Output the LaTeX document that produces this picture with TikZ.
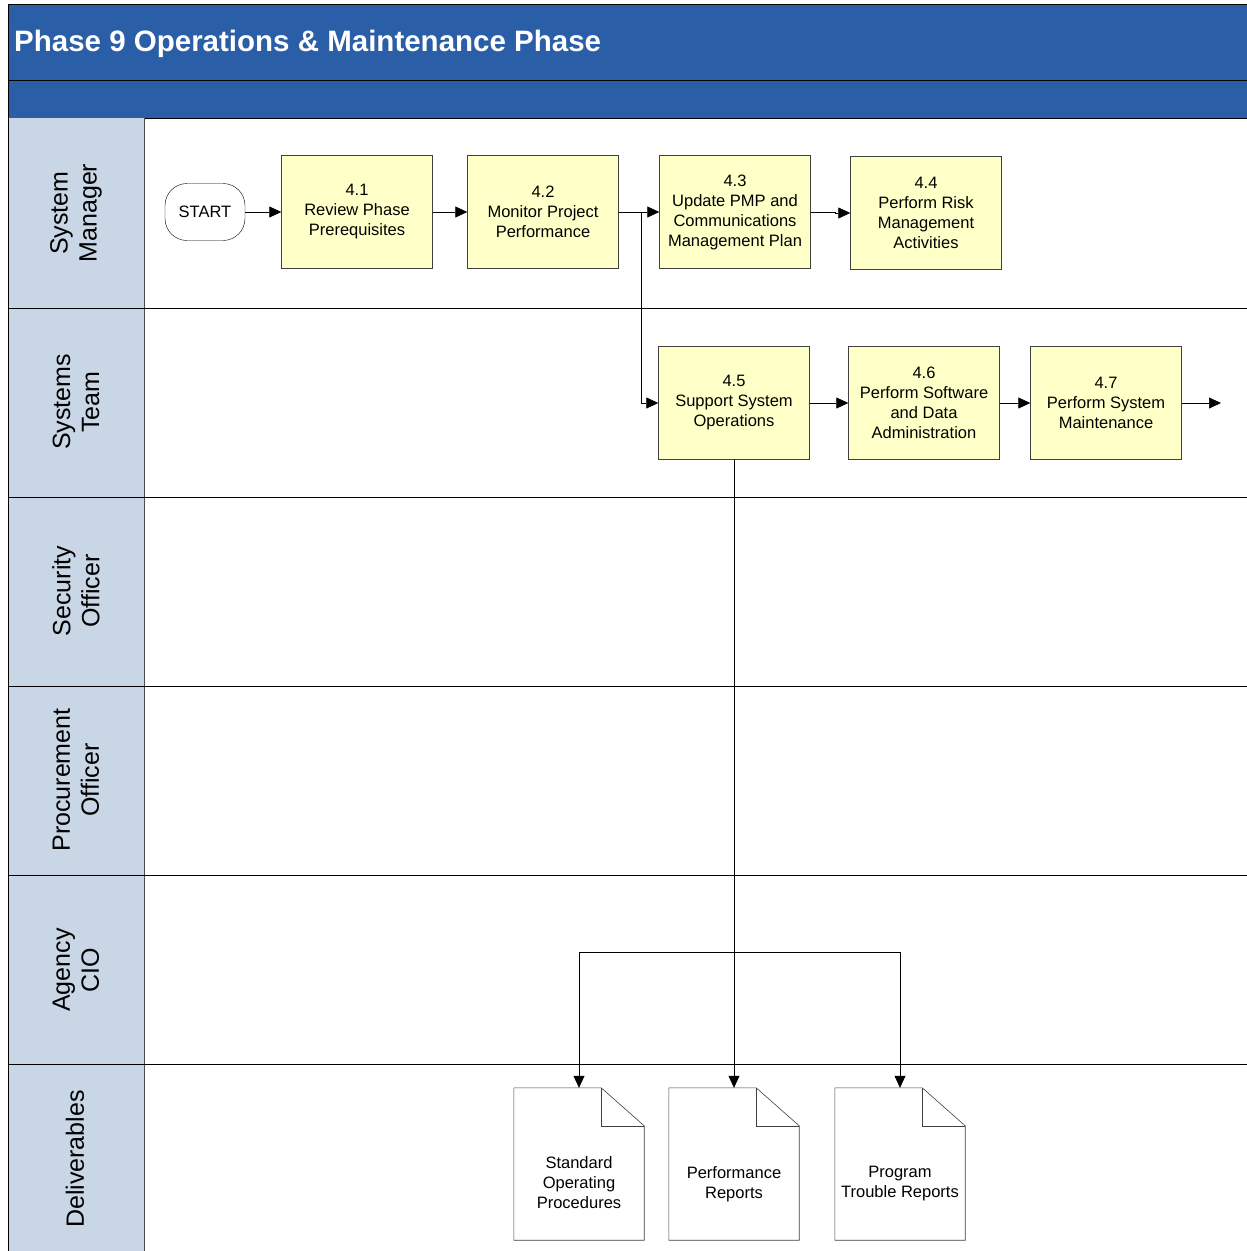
\documentclass[tikz,border=0pt]{standalone}
\usepackage{fontspec}
\setmainfont{Liberation Sans}
\usetikzlibrary{arrows.meta,calc}
\definecolor{hdrblue}{RGB}{42,94,166}
\definecolor{lanebg}{RGB}{201,214,230}
\definecolor{procfill}{RGB}{255,255,200}
\begin{document}
\begin{tikzpicture}[x=1pt,y=-1pt,
 proc/.style={draw=black!75,fill=procfill,minimum width=151pt,minimum height=113pt,align=center,font=\fontsize{16.5}{20}\selectfont,inner sep=2pt},
 term/.style={draw,rounded corners=22pt,minimum width=80pt,minimum height=57pt,font=\fontsize{16.5}{20}\selectfont},
 arr/.style={-{Triangle[length=12pt,width=11pt]},line width=0.6pt},
 lanelbl/.style={rotate=90,align=center,font=\fontsize{25}{29}\selectfont},
 docbox/.style={minimum width=130pt,minimum height=152pt,inner sep=0pt},
 docshape/.style={draw=black!75,fill=white,line width=0.6pt},
 doctext/.style={align=center,font=\fontsize{16.5}{20}\selectfont}]

\useasboundingbox (0,0) rectangle (1247,1251);
\fill[white] (0,0) rectangle (1247,1251);
% header bands
\draw[fill=hdrblue,line width=0.8pt] (8,4) rectangle (1252,80);
\draw[fill=hdrblue,line width=0.8pt] (8,80) rectangle (1252,118);
\node[anchor=west,text=white,font=\bfseries\fontsize{29.5}{34}\selectfont,inner sep=0pt] (title) at (14,44) {Phase 9 Operations \& Maintenance Phase};
% lane label column
\fill[lanebg] (8,118) rectangle (144,1255);
\draw[black!70,line width=0.8pt] (144,118) -- (144,1255);
\draw[line width=0.8pt] (8,4) -- (8,1255);
\foreach \yy in {308,497,686,875,1064} \draw[line width=0.8pt] (8,\yy) -- (1252,\yy);
% lane labels
\node[lanelbl] (l1) at (76,213) {System\\Manager};
\node[lanelbl] (l2) at (76,402) {Systems\\Team};
\node[lanelbl] (l3) at (76,591) {Security\\Officer};
\node[lanelbl] (l4) at (76,780) {Procurement\\Officer};
\node[lanelbl] (l5) at (76,970) {Agency\\CIO};
\node[lanelbl] (l6) at (75,1159) {Deliverables};
% process nodes
\node[term] (start) at (205,212) {START};
\node[proc] (n41) at (357,212) {4.1\\Review Phase\\Prerequisites};
\node[proc] (n42) at (543,212) {4.2\\Monitor Project\\Performance};
\node[proc] (n43) at (735,212) {4.3\\Update PMP and\\Communications\\Management Plan};
\node[proc] (n44) at (926,213) {4.4\\Perform Risk\\Management\\Activities};
\node[proc] (n45) at (734,403) {4.5\\Support System\\Operations};
\node[proc] (n46) at (924,403) {4.6\\Perform Software\\and Data\\Administration};
\node[proc] (n47) at (1106,403) {4.7\\Perform System\\Maintenance};
\coordinate (endp) at (1221,403);
% documents
\node[docbox] (d1) at (579,1164) {};
\node[docbox] (d2) at (734,1164) {};
\node[docbox] (d3) at (900,1164) {};
\foreach \d in {d1,d2,d3}{
 \draw[docshape] (\d.north west) -- ([xshift=-43pt]\d.north east) -- ([yshift=-38pt]\d.north east) -- (\d.south east) -- (\d.south west) -- cycle;
 \draw[docshape,fill=none] ([xshift=-43pt]\d.north east) -- ([xshift=-43pt,yshift=-38pt]\d.north east) -- ([yshift=-38pt]\d.north east);
}
\node[doctext] (t1) at ($(d1.center)+(0,19)$) {Standard\\Operating\\Procedures};
\node[doctext] (t2) at ($(d2.center)+(0,20)$) {Performance\\Reports};
\node[doctext] (t3) at ($(d3.center)+(0,20)$) {Program\\Trouble Reports};
% connectors
\draw[arr] (start) -- (n41);
\draw[arr] (n41) -- (n42);
\draw[arr] (n42) -- (n43);
\coordinate (br) at (641,212);
\draw[arr] (br) |- (n45.west);
\draw[arr] (n43.east) -- ++(25,0) |- (n44.west);
\draw[arr] (n45) -- (n46);
\draw[arr] (n46) -- (n47);
\draw[arr] (n47.east) -- (endp);
\draw[arr] (n45.south) -- (d2.north);
\coordinate (jb) at (734,952);
\draw[arr] (jb) -| (d1.north);
\draw[arr] (jb) -| (d3.north);
\end{tikzpicture}
\end{document}
